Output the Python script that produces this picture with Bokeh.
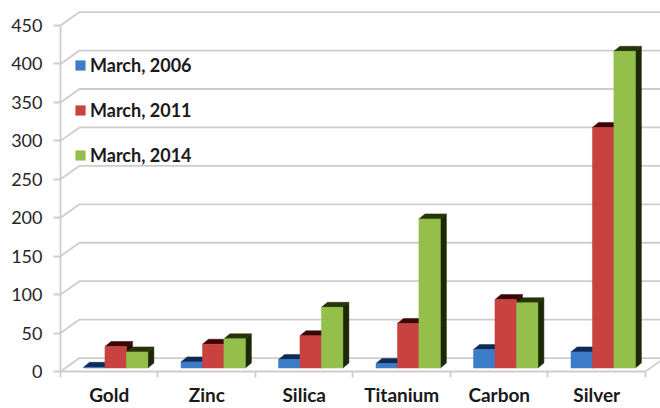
from bokeh.plotting import figure
from bokeh.models import ColumnDataSource, FixedTicker, Legend, LegendItem, Range1d
from bokeh.embed import file_html
from bokeh.resources import INLINE

# ---- data ----
categories = ["Gold", "Zinc", "Silica", "Titanium", "Carbon", "Silver"]
series_names = ["March, 2006", "March, 2011", "March, 2014"]
v2006 = [1, 8, 11, 6, 24, 21]
v2011 = [28, 31, 42, 58, 89, 313]
v2014 = [21, 38, 79, 194, 85, 412]
y_ticks = [0, 50, 100, 150, 200, 250, 300, 350, 400, 450]

series_values = [v2006, v2011, v2014]

# ---- styles ----
front_colors = ["#3D7CC9", "#C8423F", "#93BF4A"]
top_colors = ["#0E2B55", "#3C0606", "#253409"]
side_colors = ["#0A2040", "#2E0404", "#1C2806"]
grid_color = "#CDCDCD"

BAR_START = 0.236   # offset of first bar inside a category (category units)
BAR_W = 0.22        # bar front width
DDX = 0.062         # bar depth, x
DDY = 6.5           # bar depth, y
BASE = 4.5          # bar base above the front floor edge
WDX = 0.195         # wall depth, x
WDY = 17.5          # wall depth, y
X_END = 6.154
Y_END = 482.6

p = figure(width=660, height=408,
           x_range=Range1d(0, X_END), y_range=Range1d(0, Y_END),
           output_backend="svg", toolbar_location=None,
           min_border_left=60, min_border_right=0,
           min_border_top=0, min_border_bottom=37)
p.outline_line_color = None
p.xgrid.visible = False
p.ygrid.visible = False
p.background_fill_color = "white"
p.border_fill_color = "white"

# back wall gridlines with left side-wall diagonals
p.multi_line(xs=[[0, WDX, X_END] for v in y_ticks],
             ys=[[v, v + WDY, v + WDY] for v in y_ticks],
             line_color=grid_color, line_width=1.8)
# floor right edge
ncat = len(categories)
p.line(x=[ncat, ncat + WDX], y=[0, WDY], line_color=grid_color, line_width=1.8)

# bars
front_renderers = []
for j, vals in enumerate(series_values):
    x0 = [i + BAR_START + j * BAR_W for i in range(ncat)]
    x1 = [x + BAR_W for x in x0]
    y0 = [BASE for _ in vals]
    y1 = [BASE + v for v in vals]
    side_xs = [[b, b + DDX, b + DDX, b] for b in x1]
    side_ys = [[lo, lo + DDY, hi + DDY, hi] for lo, hi in zip(y0, y1)]
    top_xs = [[a, a + DDX, b + DDX, b] for a, b in zip(x0, x1)]
    top_ys = [[hi, hi + DDY, hi + DDY, hi] for hi in y1]
    p.patches(xs=side_xs, ys=side_ys, fill_color=side_colors[j], line_color=side_colors[j], line_width=0.5)
    p.patches(xs=top_xs, ys=top_ys, fill_color=top_colors[j], line_color=top_colors[j], line_width=0.5)
    src = ColumnDataSource(dict(left=x0, right=x1, bottom=y0, top=y1))
    r = p.quad(left="left", right="right", bottom="bottom", top="top", source=src,
               fill_color=front_colors[j], line_color=front_colors[j], line_width=0.5)
    front_renderers.append(r)

# y axis
ya = p.yaxis[0]
ya.ticker = FixedTicker(ticks=y_ticks)
ya.bounds = (0, 450)
ya.axis_line_color = grid_color
ya.axis_line_width = 1.8
ya.major_tick_line_color = grid_color
ya.major_tick_line_width = 1.8
ya.major_tick_out = 7
ya.major_tick_in = 0
ya.minor_tick_line_color = None
ya.major_label_standoff = 11
ya.major_label_text_font = "Lato"
ya.major_label_text_font_size = "18px"
ya.major_label_text_color = "#262626"

# x axis
xa = p.xaxis[0]
centers = [i + 0.5 for i in range(ncat)]
xa.ticker = FixedTicker(ticks=centers, minor_ticks=list(range(ncat + 1)))
xa.major_label_overrides = {c: name for c, name in zip(centers, categories)}
xa.bounds = (0, ncat)
xa.axis_line_color = grid_color
xa.axis_line_width = 1.8
xa.major_tick_line_color = None
xa.major_tick_out = 0
xa.major_tick_in = 0
xa.minor_tick_line_color = grid_color
xa.minor_tick_line_width = 1.8
xa.minor_tick_out = 6
xa.minor_tick_in = 0
xa.major_label_standoff = 5
xa.major_label_text_font = "Lato"
xa.major_label_text_font_style = "bold"
xa.major_label_text_font_size = "19px"
xa.major_label_text_color = "#1A1A1A"

legend = Legend(items=[LegendItem(label=n, renderers=[r]) for n, r in zip(series_names, front_renderers)],
                location=(14, 205), orientation="vertical",
                background_fill_alpha=0, border_line_color=None,
                label_text_font="Lato", label_text_font_style="bold",
                label_text_font_size="18px", label_text_color="#1A1A1A",
                glyph_width=12, glyph_height=12, label_height=20,
                spacing=23, padding=0, margin=0, label_standoff=4)
p.add_layout(legend)

open("out.html", "w").write(file_html(p, INLINE))
